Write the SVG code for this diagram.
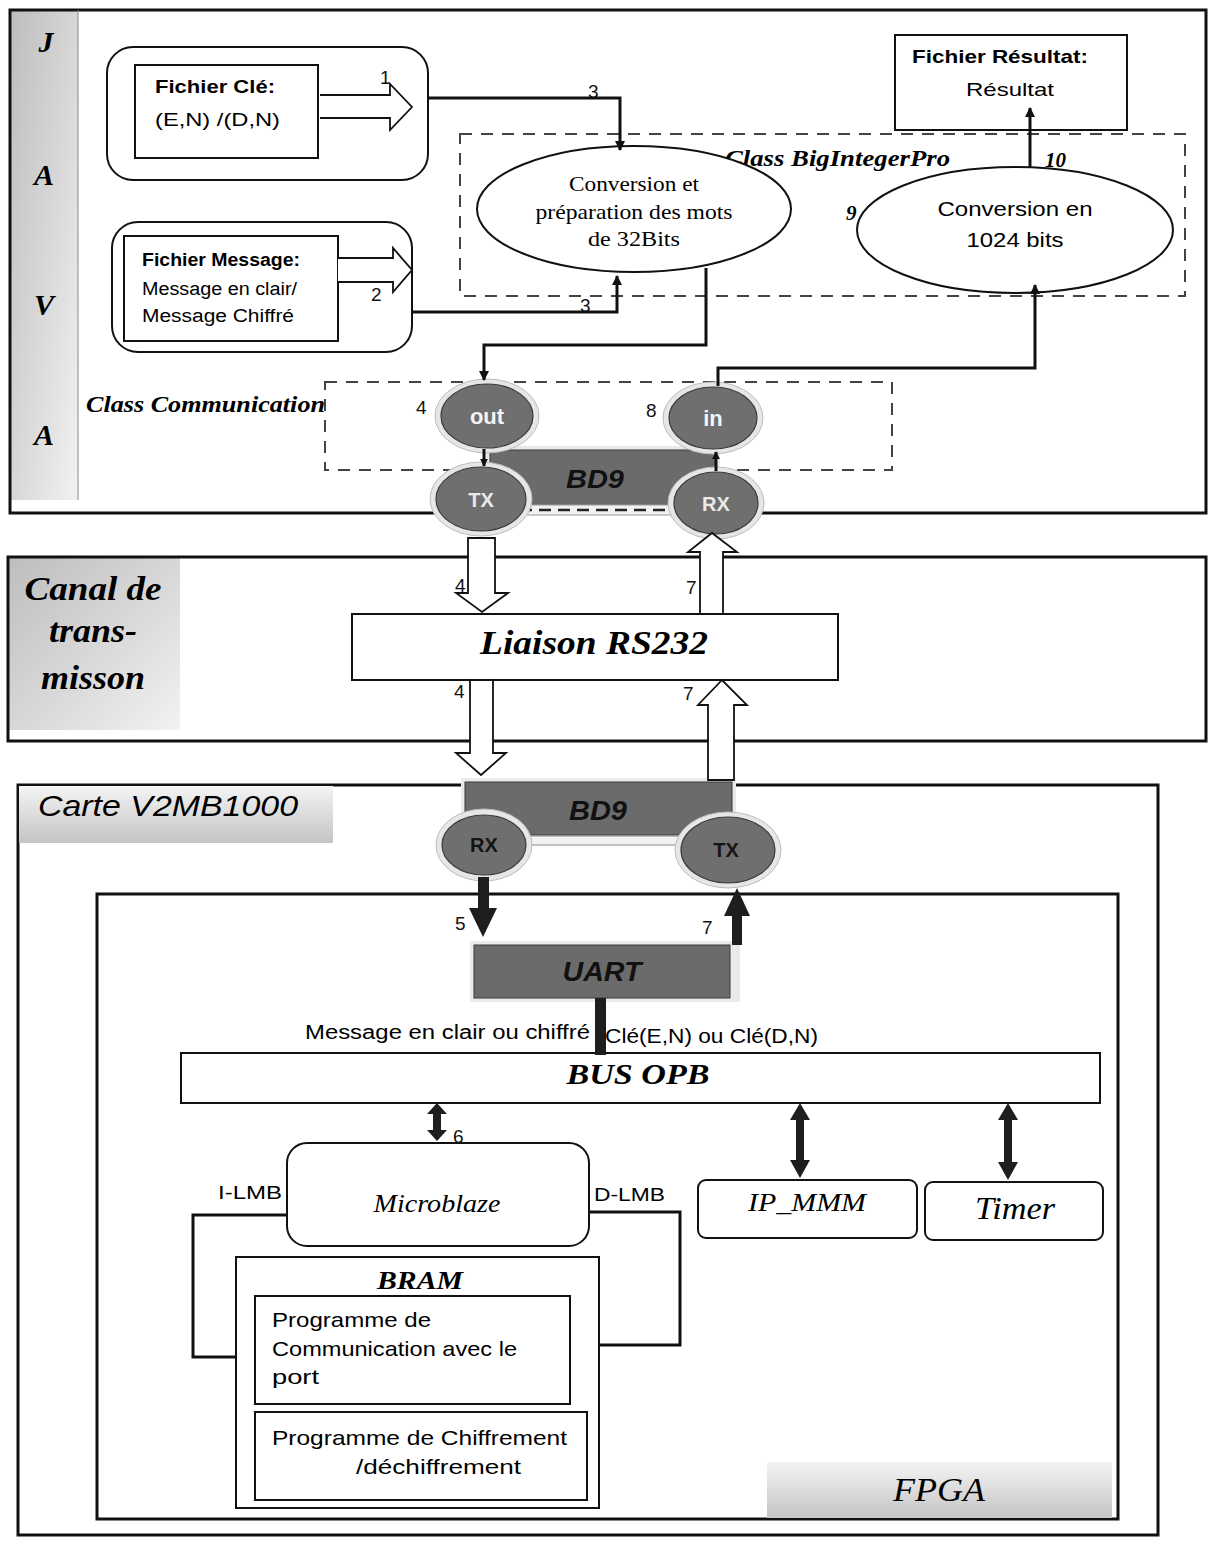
<svg xmlns="http://www.w3.org/2000/svg" width="1208" height="1542" viewBox="0 0 1208 1542">
<defs>
<linearGradient id="panel" x1="0" y1="0" x2="1" y2="1">
<stop offset="0" stop-color="#bdbdbd"/><stop offset="0.6" stop-color="#dcdcdc"/><stop offset="1" stop-color="#f2f2f2"/>
</linearGradient>
<linearGradient id="panelH" x1="0" y1="0" x2="0" y2="1">
<stop offset="0" stop-color="#f4f4f4"/><stop offset="1" stop-color="#c4c4c4"/>
</linearGradient>
<marker id="ah" viewBox="0 0 10 10" refX="9" refY="5" markerWidth="10" markerHeight="10" markerUnits="userSpaceOnUse" orient="auto">
<path d="M0,0 L10,5 L0,10 Z" fill="#111"/>
</marker>
<marker id="ahs" viewBox="0 0 10 10" refX="9" refY="5" markerWidth="8" markerHeight="8" markerUnits="userSpaceOnUse" orient="auto">
<path d="M0,0 L10,5 L0,10 Z" fill="#111"/>
</marker>
</defs>
<style>
.fr{fill:none;stroke:#111;stroke-width:3}
.box{fill:#fff;stroke:#111;stroke-width:2}
.dash{fill:none;stroke:#444;stroke-width:2;stroke-dasharray:12 9}
.ln{fill:none;stroke:#111;stroke-width:3}
.blk{fill:#fff;stroke:#111;stroke-width:1.8}
.dark{fill:#6b6b6b;stroke:#3a3a3a;stroke-width:1}
.halo{fill:#e6e6e6;stroke:#bdbdbd;stroke-width:1}
.port{fill:#6f6f6f;stroke:#3a3a3a;stroke-width:1.2}
.darr{fill:#1e1e1e}
.ser{font-family:"Liberation Serif","Times New Roman",serif}
.sbi{font-family:"Liberation Serif","Times New Roman",serif;font-style:italic;font-weight:bold}
.si{font-family:"Liberation Serif","Times New Roman",serif;font-style:italic}
.sans{font-family:"Liberation Sans",Arial,sans-serif}
.num{font-family:"Liberation Sans",Arial,sans-serif;font-size:19px;fill:#111}
.pl{font-family:"Liberation Sans",Arial,sans-serif;font-weight:bold}
</style>

<!-- JAVA frame -->
<g id="java-frame">
<rect x="10" y="10" width="68" height="490" fill="url(#panel)"/>
<rect x="10" y="10" width="1196" height="503" class="fr"/>
<line x1="78" y1="10" x2="78" y2="500" stroke="#888" stroke-width="1"/>
<text x="46" y="52" class="sbi" font-size="30" text-anchor="middle">J</text>
<text x="44" y="185" class="sbi" font-size="30" text-anchor="middle">A</text>
<text x="44" y="315" class="sbi" font-size="30" text-anchor="middle">V</text>
<text x="44" y="445" class="sbi" font-size="30" text-anchor="middle">A</text>
</g>

<g id="class-biginteger">
<rect x="460" y="134" width="725" height="162" class="dash"/>
<text x="725" y="166" class="sbi" font-size="24" textLength="225" lengthAdjust="spacingAndGlyphs">Class BigIntegerPro</text>
</g>

<g id="class-communication">
<rect x="325" y="382" width="567" height="88" class="dash"/>
<text x="86" y="412" class="sbi" font-size="23" textLength="239" lengthAdjust="spacingAndGlyphs">Class Communication</text>
</g>

<g id="fichier-cle">
<rect x="107" y="47" width="321" height="133" rx="26" class="box"/>
<rect x="135" y="65" width="183" height="93" class="box"/>
<text x="155" y="93" class="sans" font-size="19" font-weight="bold" textLength="120" lengthAdjust="spacingAndGlyphs">Fichier Clé:</text>
<text x="155" y="126" class="sans" font-size="19" textLength="125" lengthAdjust="spacingAndGlyphs">(E,N) /(D,N)</text>
<path d="M320,95 H390 V84 L412,107 L390,130 V118 H320" class="blk"/>
</g>

<g id="fichier-message">
<rect x="112" y="222" width="300" height="130" rx="26" class="box"/>
<rect x="124" y="236" width="214" height="105" class="box"/>
<text x="142" y="266" class="sans" font-size="18" font-weight="bold" textLength="158" lengthAdjust="spacingAndGlyphs">Fichier Message:</text>
<text x="142" y="295" class="sans" font-size="18" textLength="155" lengthAdjust="spacingAndGlyphs">Message en clair/</text>
<text x="142" y="322" class="sans" font-size="18" textLength="152" lengthAdjust="spacingAndGlyphs">Message Chiffré</text>
<path d="M338,258 H393 V248 L412,270 L393,292 V282 H338" class="blk"/>
</g>

<g id="fichier-resultat">
<rect x="895" y="35" width="232" height="95" class="box"/>
<text x="1000" y="63" class="sans" font-size="19" font-weight="bold" text-anchor="middle" textLength="176" lengthAdjust="spacingAndGlyphs">Fichier Résultat:</text>
<text x="1010" y="96" class="sans" font-size="19" text-anchor="middle" textLength="88" lengthAdjust="spacingAndGlyphs">Résultat</text>
</g>

<g id="conversion-32">
<ellipse cx="634" cy="209" rx="157" ry="63" class="box"/>
<text x="634" y="191" class="ser" font-size="21" text-anchor="middle" textLength="130" lengthAdjust="spacingAndGlyphs">Conversion et</text>
<text x="634" y="219" class="ser" font-size="21" text-anchor="middle" textLength="197" lengthAdjust="spacingAndGlyphs">préparation des mots</text>
<text x="634" y="246" class="ser" font-size="21" text-anchor="middle" textLength="92" lengthAdjust="spacingAndGlyphs">de 32Bits</text>
</g>

<g id="conversion-1024">
<ellipse cx="1015" cy="230" rx="158" ry="63" class="box"/>
<text x="1015" y="216" class="sans" font-size="20" text-anchor="middle" textLength="155" lengthAdjust="spacingAndGlyphs">Conversion en</text>
<text x="1015" y="247" class="sans" font-size="20" text-anchor="middle" textLength="97" lengthAdjust="spacingAndGlyphs">1024 bits</text>
</g>

<g id="bd9-pc">
<rect x="486" y="446" width="234" height="64" fill="#e8e8e8"/>
<rect x="490" y="450" width="226" height="56" class="dark"/>
<text x="595" y="488" class="pl" font-style="italic" font-size="26" text-anchor="middle" fill="#111" textLength="58" lengthAdjust="spacingAndGlyphs">BD9</text>
<rect x="520" y="505" width="170" height="10" fill="#f2f2f2" stroke="#999" stroke-width="1"/>
<line x1="520" y1="510" x2="690" y2="510" stroke="#222" stroke-width="2.5" stroke-dasharray="12 7"/>
</g>

<g id="port-out">
<ellipse cx="487" cy="416" rx="52" ry="37" class="halo"/>
<ellipse cx="487" cy="416" rx="46" ry="32" class="port"/>
<text x="487" y="424" class="pl" font-size="22" fill="#f4f4f4" text-anchor="middle">out</text>
</g>
<g id="port-in">
<ellipse cx="713" cy="418" rx="50" ry="36" class="halo"/>
<ellipse cx="713" cy="418" rx="44" ry="31" class="port"/>
<text x="713" y="426" class="pl" font-size="22" fill="#f4f4f4" text-anchor="middle">in</text>
</g>
<g id="port-tx-pc">
<ellipse cx="481" cy="499" rx="51" ry="37" class="halo"/>
<ellipse cx="481" cy="499" rx="45" ry="32" class="port"/>
<text x="481" y="507" class="pl" font-size="20" fill="#eaeaea" text-anchor="middle">TX</text>
</g>
<g id="port-rx-pc">
<ellipse cx="716" cy="503" rx="48" ry="36" class="halo"/>
<ellipse cx="716" cy="503" rx="42" ry="31" class="port"/>
<text x="716" y="511" class="pl" font-size="20" fill="#eaeaea" text-anchor="middle">RX</text>
</g>

<!-- Canal de transmission -->
<g id="canal-frame">
<rect x="8" y="556" width="172" height="174" fill="url(#panel)"/>
<rect x="8" y="557" width="1198" height="184" class="fr"/>
<text x="93" y="600" class="sbi" font-size="34" text-anchor="middle" textLength="137" lengthAdjust="spacingAndGlyphs">Canal de</text>
<text x="93" y="642" class="sbi" font-size="34" text-anchor="middle" textLength="88" lengthAdjust="spacingAndGlyphs">trans-</text>
<text x="93" y="689" class="sbi" font-size="34" text-anchor="middle" textLength="104" lengthAdjust="spacingAndGlyphs">misson</text>
</g>
<g id="liaison-rs232">
<rect x="352" y="614" width="486" height="66" class="box"/>
<text x="594" y="654" class="sbi" font-size="34" text-anchor="middle" textLength="228" lengthAdjust="spacingAndGlyphs">Liaison RS232</text>
</g>

<!-- Carte -->
<g id="carte-frame">
<rect x="18" y="785" width="1140" height="750" class="fr"/>
<rect x="19" y="786" width="314" height="57" fill="url(#panelH)"/>
<text x="38" y="816" font-family="'Liberation Sans',Arial,sans-serif" font-style="italic" font-size="29" textLength="260" lengthAdjust="spacingAndGlyphs">Carte V2MB1000</text>
</g>
<g id="fpga-frame">
<rect x="97" y="894" width="1021" height="625" class="fr"/>
<rect x="767" y="1462" width="345" height="56" fill="url(#panelH)"/>
<text x="939" y="1501" class="si" font-size="34" text-anchor="middle" textLength="92" lengthAdjust="spacingAndGlyphs">FPGA</text>
</g>

<g id="bd9-carte">
<rect x="461" y="778" width="275" height="61" fill="#eaeaea"/>
<rect x="465" y="782" width="267" height="53" class="dark"/>
<text x="598" y="820" class="pl" font-style="italic" font-size="27" text-anchor="middle" fill="#111" textLength="58" lengthAdjust="spacingAndGlyphs">BD9</text>
<rect x="525" y="836" width="160" height="9" fill="#f2f2f2" stroke="#888" stroke-width="1"/>
</g>
<g id="port-rx-carte">
<ellipse cx="484" cy="845" rx="48" ry="36" class="halo"/>
<ellipse cx="484" cy="845" rx="42" ry="30" class="port"/>
<text x="484" y="852" class="pl" font-size="20" font-weight="normal" fill="#151515" text-anchor="middle">RX</text>
</g>
<g id="port-tx-carte">
<ellipse cx="728" cy="850" rx="53" ry="38" class="halo"/>
<ellipse cx="728" cy="850" rx="47" ry="33" class="port"/>
<text x="726" y="857" class="pl" font-size="20" font-weight="normal" fill="#151515" text-anchor="middle">TX</text>
</g>

<g id="uart">
<rect x="470" y="941" width="270" height="61" fill="#eaeaea"/>
<rect x="474" y="945" width="256" height="53" class="dark"/>
<text x="602" y="981" class="pl" font-style="italic" font-size="27" text-anchor="middle" fill="#111" textLength="79" lengthAdjust="spacingAndGlyphs">UART</text>
</g>

<g id="bus-opb">
<rect x="181" y="1053" width="919" height="50" class="box"/>
<text x="638" y="1084" class="sbi" font-size="29" text-anchor="middle" textLength="143" lengthAdjust="spacingAndGlyphs">BUS OPB</text>
</g>

<g id="microblaze">
<rect x="287" y="1143" width="302" height="103" rx="20" class="box"/>
<text x="437" y="1212" class="si" font-size="25" text-anchor="middle" textLength="127" lengthAdjust="spacingAndGlyphs">Microblaze</text>
</g>
<g id="ip-mmm">
<rect x="698" y="1180" width="219" height="58" rx="8" class="box"/>
<text x="807" y="1211" class="si" font-size="26" text-anchor="middle" textLength="118" lengthAdjust="spacingAndGlyphs">IP_MMM</text>
</g>
<g id="timer">
<rect x="925" y="1182" width="178" height="58" rx="8" class="box"/>
<text x="1015" y="1219" class="si" font-size="31" text-anchor="middle" textLength="80" lengthAdjust="spacingAndGlyphs">Timer</text>
</g>

<g id="bram">
<rect x="236" y="1257" width="363" height="251" class="box"/>
<text x="420" y="1289" class="sbi" font-size="25" text-anchor="middle" textLength="86" lengthAdjust="spacingAndGlyphs">BRAM</text>
<rect x="255" y="1296" width="315" height="108" class="box"/>
<text x="272" y="1327" class="sans" font-size="21" textLength="159" lengthAdjust="spacingAndGlyphs">Programme de</text>
<text x="272" y="1356" class="sans" font-size="21" textLength="245" lengthAdjust="spacingAndGlyphs">Communication avec le</text>
<text x="272" y="1384" class="sans" font-size="21" textLength="47" lengthAdjust="spacingAndGlyphs">port</text>
<rect x="255" y="1412" width="332" height="88" class="box"/>
<text x="272" y="1445" class="sans" font-size="21" textLength="295" lengthAdjust="spacingAndGlyphs">Programme de Chiffrement</text>
<text x="356" y="1474" class="sans" font-size="21" textLength="165" lengthAdjust="spacingAndGlyphs">/déchiffrement</text>
</g>

<!-- Connectors -->
<g id="connectors">
<path d="M428,98 H620 V150" class="ln" stroke-width="2.5" marker-end="url(#ah)"/>
<path d="M412,312 H617 V276" class="ln" stroke-width="2.5" marker-end="url(#ah)"/>
<path d="M1030,168 V108" class="ln" stroke-width="2.5" marker-end="url(#ah)"/>
<path d="M706,268 V345 H484 V380" class="ln" stroke-width="2.5" marker-end="url(#ah)"/>
<path d="M718,386 V368 H1035 V285" class="ln" stroke-width="2.5" marker-end="url(#ah)"/>
<path d="M484,449 V466" class="ln" stroke-width="2" marker-end="url(#ahs)"/>
<path d="M716,471 V452" class="ln" stroke-width="2" marker-end="url(#ahs)"/>

<path d="M468,538 H495 V593 H508 L482,612 L456,593 H468 Z" class="blk"/>
<path d="M700,614 V552 H688 L712,533 L737,552 H723 V614 Z" class="blk"/>
<path d="M470,680 V753 H456 L481,775 L506,753 H493 V680 Z" class="blk"/>
<path d="M708,780 V705 H698 L722,680 L747,705 H734 V780 Z" class="blk"/>

<path d="M478,877 H489 V908 H497 L483,937 L469,908 H478 Z" class="darr"/>
<path d="M732,945 V916 H724 L737,888 L750,916 H742 V945 Z" class="darr"/>
<rect x="595" y="998" width="11" height="57" class="darr"/>

<path d="M433,1114 H441 V1130 H447 L437,1141 L427,1130 H433 Z M433,1114 H427 L437,1103 L447,1114 H441 Z" class="darr"/>
<path d="M796,1120 H804 V1160 H810 L800,1178 L790,1160 H796 Z M796,1120 H790 L800,1103 L810,1120 H804 Z" class="darr"/>
<path d="M1004,1120 H1012 V1162 H1018 L1008,1180 L998,1162 H1004 Z M1004,1120 H998 L1008,1103 L1018,1120 H1012 Z" class="darr"/>

<path d="M287,1215 H193 V1357 H236" class="ln" stroke-width="2.5"/>
<path d="M589,1212 H680 V1345 H599" class="ln" stroke-width="2.5"/>

<text x="380" y="84" class="num">1</text>
<text x="371" y="301" class="num">2</text>
<text x="588" y="98" class="num">3</text>
<text x="580" y="312" class="num">3</text>
<text x="416" y="414" class="num">4</text>
<text x="646" y="417" class="num">8</text>
<text x="846" y="220" class="sbi" font-size="21">9</text>
<text x="1045" y="167" class="sbi" font-size="21">10</text>
<text x="455" y="592" class="num">4</text>
<text x="686" y="594" class="num">7</text>
<text x="454" y="698" class="num">4</text>
<text x="683" y="700" class="num">7</text>
<text x="455" y="930" class="num">5</text>
<text x="702" y="934" class="num">7</text>
<text x="453" y="1143" class="num">6</text>
<text x="305" y="1039" class="sans" font-size="20" textLength="285" lengthAdjust="spacingAndGlyphs">Message en clair ou chiffré</text>
<text x="605" y="1043" class="sans" font-size="20" textLength="213" lengthAdjust="spacingAndGlyphs">Clé(E,N) ou Clé(D,N)</text>
<text x="218" y="1199" class="sans" font-size="18" textLength="64" lengthAdjust="spacingAndGlyphs">I-LMB</text>
<text x="594" y="1201" class="sans" font-size="18" textLength="71" lengthAdjust="spacingAndGlyphs">D-LMB</text>
</g>
</svg>
